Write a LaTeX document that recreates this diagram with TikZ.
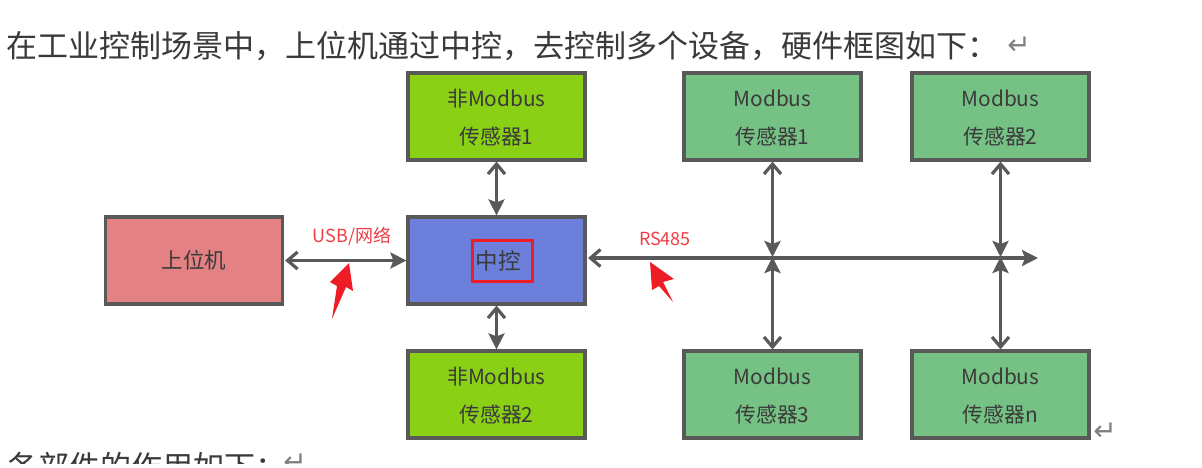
\documentclass[tikz,border=0pt]{standalone}
\usepackage{fontspec}
\setmainfont{Noto Sans CJK SC}
\newfontfamily\symfont{DejaVu Sans}
\usetikzlibrary{arrows.meta}
\definecolor{linegray}{HTML}{595959}
\definecolor{textgray}{HTML}{3A3A3A}
\definecolor{lime}{HTML}{8AD014}
\definecolor{sage}{HTML}{76C285}
\definecolor{rose}{HTML}{E48283}
\definecolor{slate}{HTML}{6C7FDA}
\definecolor{redmark}{HTML}{EE1C25}
\newcommand{\topstrut}{\rule{0pt}{20.5pt}}
\tikzset{
  unitbox/.style={draw=linegray,line width=3.2pt,minimum width=177pt,minimum height=87pt,inner sep=0pt,outer sep=1.6pt,
    text=textgray,align=center,font=\fontsize{20.8}{38}\selectfont},
  link/.style={draw=linegray,line width=3.2pt,{Straight Barb[length=10pt,width=17pt,line width=3.2pt]}-{Stealth[length=16pt,width=16pt,inset=3pt]}},
  linkrev/.style={draw=linegray,line width=3.2pt,{Stealth[length=16pt,width=16pt,inset=3pt]}-{Straight Barb[length=10pt,width=17pt,line width=3.2pt]}},
  redlabel/.style={text=redmark!85!white,font=\fontsize{18}{20}\selectfont,inner sep=0pt},
  para/.style={text=textgray,font=\fontsize{31}{36}\selectfont,inner sep=0pt,anchor=west},
  retmark/.style={text=gray,font=\symfont\fontsize{28}{30}\selectfont,inner sep=0pt}
}
\begin{document}
\begin{tikzpicture}[x=1pt,y=-1pt]
\useasboundingbox (0,0) rectangle (1202,467);
\fill[white] (0,0) rectangle (1202,467);
\node[para] (title) at (6,46) {在工业控制场景中，上位机通过中控，去控制多个设备，硬件框图如下：};
\node[retmark] (ret1) at (1019,46) {↵};
\begin{scope}
\clip (0,0) rectangle (1202,463);
\node[para] (foot) at (7,467) {各部件的作用如下：};
\node[retmark] (ret2) at (295,463) {↵};
\end{scope}
\node[retmark] (ret3) at (1105,432) {↵};
\node[unitbox,fill=lime] (g1) at (496.5,116.5) {\topstrut 非Modbus\\传感器1};
\node[unitbox,fill=lime] (g2) at (496.5,394.5) {\topstrut 非Modbus\\传感器2};
\node[unitbox,fill=sage] (m1) at (772.5,116.5) {\topstrut Modbus\\传感器1};
\node[unitbox,fill=sage] (m2) at (1000.5,116.5) {\topstrut Modbus\\传感器2};
\node[unitbox,fill=sage] (m3) at (772.5,394.5) {\topstrut Modbus\\传感器3};
\node[unitbox,fill=sage] (mn) at (1000.5,394.5) {\topstrut Modbus\\传感器n};
\node[unitbox,fill=rose,font=\fontsize{21.5}{26}\selectfont] (host) at (194,260.5) {上位机};
\node[unitbox,fill=slate] (ctrl) at (496.5,260.5) {};
\node[draw=redmark,line width=2.4pt,minimum width=60pt,minimum height=41pt,inner sep=0pt] (core) at (502.5,261) {};
\node[text=textgray,font=\fontsize{22.5}{26}\selectfont,inner sep=0pt] (corelabel) at (498,261) {中控};
\coordinate (busL) at (588,258);
\coordinate (busR) at (1038,258);
\coordinate (j1) at (772.5,258);
\coordinate (j2) at (1000.5,258);
\draw[link] (host.east) ++(1,0) coordinate (hostEnd) (hostEnd) -- (ctrl.west);
\draw[link] (busL) -- (busR);
\draw[linkrev] ([yshift=1pt]j1) -- (m1.south);
\draw[linkrev] ([yshift=1pt]j2) -- (m2.south);
\draw[linkrev] ([yshift=1pt]j1) -- (m3.north);
\draw[linkrev] ([yshift=1pt]j2) -- (mn.north);
\draw[link] (g1.south) -- (ctrl.north);
\draw[link] (ctrl.south) -- (g2.north);
\node[redlabel] (usb) at (352,236) {USB/网络};
\node[redlabel] (rs) at (665,239) {RS485};
\fill[redmark] (349,263) -- (353,291) -- (346,287) -- (332,319) -- (337,286) -- (330,282) -- cycle;
\fill[redmark] (650,262) -- (674,279) -- (663,282) -- (673,302) -- (659,286) -- (652,290) -- cycle;
\end{tikzpicture}
\end{document}
